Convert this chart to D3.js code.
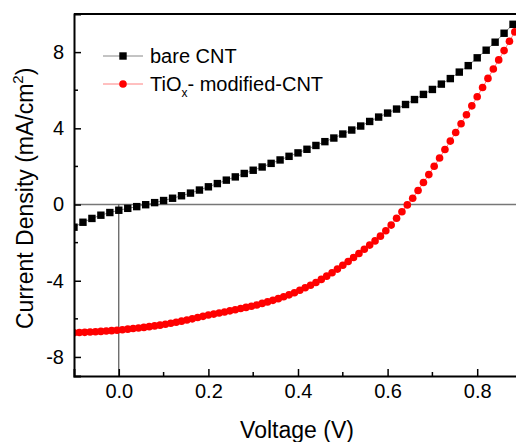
<!DOCTYPE html>
<html>
<head>
<meta charset="utf-8">
<script src="https://cdn.jsdelivr.net/npm/d3@7"></script>
<style>
    body { margin: 0; background: #fff; }
    svg { display: block; font-family: 'Liberation Sans', Arial, sans-serif; }
</style>
</head>
<body>
<svg id="iv-chart" width="516" height="442"></svg>
<script>
// bare CNT, sampled every 20 mV
let bare_voltage = [-0.10, -0.08, -0.06, -0.04, -0.02, 0.00, 0.02, 0.04, 0.06, 0.08,
    0.10, 0.12, 0.14, 0.16, 0.18, 0.20, 0.22, 0.24, 0.26, 0.28,
    0.30, 0.32, 0.34, 0.36, 0.38, 0.40, 0.42, 0.44, 0.46, 0.48,
    0.50, 0.52, 0.54, 0.56, 0.58, 0.60, 0.62, 0.64, 0.66, 0.68,
    0.70, 0.72, 0.74, 0.76, 0.78, 0.80, 0.82, 0.84, 0.86, 0.88]
let bare_current = [-1.19, -0.93, -0.73, -0.56, -0.42, -0.30, -0.20, -0.11, -0.01, 0.10,
    0.21, 0.33, 0.46, 0.60, 0.76, 0.93, 1.10, 1.28, 1.45, 1.63,
    1.80, 1.97, 2.16, 2.34, 2.53, 2.71, 2.90, 3.10, 3.30, 3.49,
    3.70, 3.91, 4.12, 4.36, 4.59, 4.80, 5.01, 5.25, 5.51, 5.78,
    6.04, 6.32, 6.61, 6.95, 7.29, 7.70, 8.10, 8.52, 8.99, 9.46]

// TiOx modified CNT, sampled every 12 mV
let tio_voltage = [-0.100, -0.088, -0.076, -0.064, -0.052, -0.040, -0.028, -0.016, -0.004, 0.008,
    0.020, 0.032, 0.044, 0.056, 0.068, 0.080, 0.092, 0.104, 0.116, 0.128,
    0.140, 0.152, 0.164, 0.176, 0.188, 0.200, 0.212, 0.224, 0.236, 0.248,
    0.260, 0.272, 0.284, 0.296, 0.308, 0.320, 0.332, 0.344, 0.356, 0.368,
    0.380, 0.392, 0.404, 0.416, 0.428, 0.440, 0.452, 0.464, 0.476, 0.488,
    0.500, 0.512, 0.524, 0.536, 0.548, 0.560, 0.572, 0.584, 0.596, 0.608,
    0.620, 0.632, 0.644, 0.656, 0.668, 0.680, 0.692, 0.704, 0.716, 0.728,
    0.740, 0.752, 0.764, 0.776, 0.788, 0.800, 0.812, 0.824, 0.836, 0.848,
    0.860, 0.872, 0.884]
let tio_current = [-6.73, -6.72, -6.71, -6.69, -6.68, -6.66, -6.64, -6.62, -6.60, -6.57,
    -6.54, -6.51, -6.48, -6.45, -6.41, -6.37, -6.33, -6.28, -6.23, -6.18,
    -6.12, -6.06, -6.00, -5.93, -5.87, -5.80, -5.75, -5.69, -5.64, -5.58,
    -5.52, -5.46, -5.40, -5.34, -5.27, -5.19, -5.11, -5.03, -4.94, -4.84,
    -4.74, -4.63, -4.50, -4.37, -4.24, -4.09, -3.93, -3.76, -3.58, -3.39,
    -3.19, -2.99, -2.78, -2.57, -2.35, -2.13, -1.91, -1.66, -1.38, -1.08,
    -0.72, -0.38, -0.02, 0.33, 0.74, 1.16, 1.57, 2.01, 2.44, 2.89,
    3.33, 3.78, 4.24, 4.71, 5.18, 5.66, 6.14, 6.62, 7.11, 7.59,
    8.08, 8.57, 9.06]

let x_major = [0.0, 0.2, 0.4, 0.6, 0.8]
let x_minor = [0.1, 0.3, 0.5, 0.7]
let y_major = [-8, -4, 0, 4, 8]
let y_minor = [-6, -2, 2, 6]

let series_names = ['bare CNT', 'TiOx- modified-CNT']

let pad_l = 74
let pad_t = 14
let plot_w = 448
let plot_h = 362

let sq = 7.4
let dot_r = 3.8

let svg = d3.select('#iv-chart')

let x = d3.scaleLinear().domain([-0.1, 0.9]).range([pad_l, pad_l + plot_w])
let y = d3.scaleLinear().domain([-9, 10]).range([pad_t + plot_h, pad_t])

let zip = (xs, ys) => xs.map((v, i) => ({v: v, j: ys[i]}))
let bare = zip(bare_voltage, bare_current)
let tio = zip(tio_voltage, tio_current)

svg.append('clipPath').attr('id', 'plot-clip')
    .append('rect')
    .attr('x', pad_l).attr('y', pad_t)
    .attr('width', plot_w).attr('height', plot_h)

// reference lines J = 0 and V = 0
svg.append('line')
    .attr('x1', x(-0.1)).attr('x2', x(0.9))
    .attr('y1', y(0)).attr('y2', y(0))
    .attr('stroke', '#777').attr('stroke-width', 1.5)

svg.append('line')
    .attr('x1', x(0)).attr('x2', x(0))
    .attr('y1', y(0)).attr('y2', y(-9))
    .attr('stroke', '#333').attr('stroke-width', 1)

let data_g = svg.append('g').attr('clip-path', 'url(#plot-clip)')

let line = d3.line().x(d => x(d.v)).y(d => y(d.j))

data_g.append('path').datum(bare)
    .attr('d', line).attr('fill', 'none')
    .attr('stroke', '#888').attr('stroke-width', 1)

data_g.append('path').datum(tio)
    .attr('d', line).attr('fill', 'none')
    .attr('stroke', '#ff8080').attr('stroke-width', 1)

data_g.selectAll('.bare-pt').data(bare).enter()
    .append('rect').classed('bare-pt', true)
    .attr('x', d => x(d.v) - sq / 2).attr('y', d => y(d.j) - sq / 2)
    .attr('width', sq).attr('height', sq)
    .attr('fill', '#000')

data_g.selectAll('.tio-pt').data(tio).enter()
    .append('circle').classed('tio-pt', true)
    .attr('cx', d => x(d.v)).attr('cy', d => y(d.j))
    .attr('r', dot_r)
    .attr('fill', '#ff0000')

// axes, ticks pointing inward
let x_axis = svg.append('g').attr('transform', `translate(0, ${pad_t + plot_h})`)
x_axis.call(d3.axisBottom(x).tickValues(x_major).tickFormat(d3.format('.1f')).tickSize(-7).tickPadding(12))
x_axis.selectAll('.minor').data(x_minor).enter()
    .append('line').classed('minor', true)
    .attr('x1', d => x(d)).attr('x2', d => x(d))
    .attr('y1', 0).attr('y2', -4)
    .attr('stroke', '#000').attr('stroke-width', 1.5)

let y_axis = svg.append('g').attr('transform', `translate(${pad_l}, 0)`)
y_axis.call(d3.axisLeft(y).tickValues(y_major).tickFormat(d3.format('d')).tickSize(-7).tickPadding(10))
y_axis.selectAll('.minor').data(y_minor).enter()
    .append('line').classed('minor', true)
    .attr('x1', 0).attr('x2', 4)
    .attr('y1', d => y(d)).attr('y2', d => y(d))
    .attr('stroke', '#000').attr('stroke-width', 1.5)

svg.selectAll('.domain').attr('stroke', '#000').attr('stroke-width', 2)
svg.selectAll('.tick line').attr('stroke', '#000').attr('stroke-width', 1.5)
svg.selectAll('.tick text')
    .attr('font-family', "'Liberation Sans', Arial, sans-serif")
    .attr('font-size', 20).attr('fill', '#000')
x_axis.selectAll('.tick text').attr('dy', '0.5em')
y_axis.selectAll('.tick text').text(d => d < 0 ? '-' + Math.abs(d) : d)

// top frame
svg.append('line')
    .attr('x1', pad_l).attr('x2', pad_l + plot_w)
    .attr('y1', pad_t).attr('y2', pad_t)
    .attr('stroke', '#000').attr('stroke-width', 2)

// axis titles
svg.append('text')
    .attr('x', x(0.4) - 1).attr('y', 438)
    .attr('text-anchor', 'middle')
    .attr('font-size', 23)
    .text('Voltage (V)')

let y_title = svg.append('text')
    .attr('transform', 'translate(33, 198) rotate(-90)')
    .attr('font-size', 23)
y_title.append('tspan').attr('x', -131).text('Current Density (mA/cm')
y_title.append('tspan').attr('font-size', 15).attr('dy', -10).text('2')
y_title.append('tspan').attr('dy', 10).text(')')

// legend
let legend = svg.append('g').attr('transform', 'translate(103, 56)')

legend.append('line').attr('x1', 0).attr('x2', 40).attr('y1', 0).attr('y2', 0)
    .attr('stroke', '#888').attr('stroke-width', 1)
legend.append('rect').attr('x', 20 - sq / 2).attr('y', -sq / 2)
    .attr('width', sq).attr('height', sq).attr('fill', '#000')
legend.append('text').attr('x', 47).attr('y', 7).attr('font-size', 20)
    .text(series_names[0])

legend.append('line').attr('x1', 0).attr('x2', 40).attr('y1', 28).attr('y2', 28)
    .attr('stroke', '#ff8080').attr('stroke-width', 1)
legend.append('circle').attr('cx', 20).attr('cy', 28).attr('r', dot_r).attr('fill', '#ff0000')

let tio_label = legend.append('text').attr('x', 47).attr('y', 35).attr('font-size', 20)
tio_label.append('tspan').text('TiO')
tio_label.append('tspan').attr('font-size', 12).attr('dy', 6).text('x')
tio_label.append('tspan').attr('dy', -6).text(series_names[1].slice(4))
</script>
</body>
</html>
